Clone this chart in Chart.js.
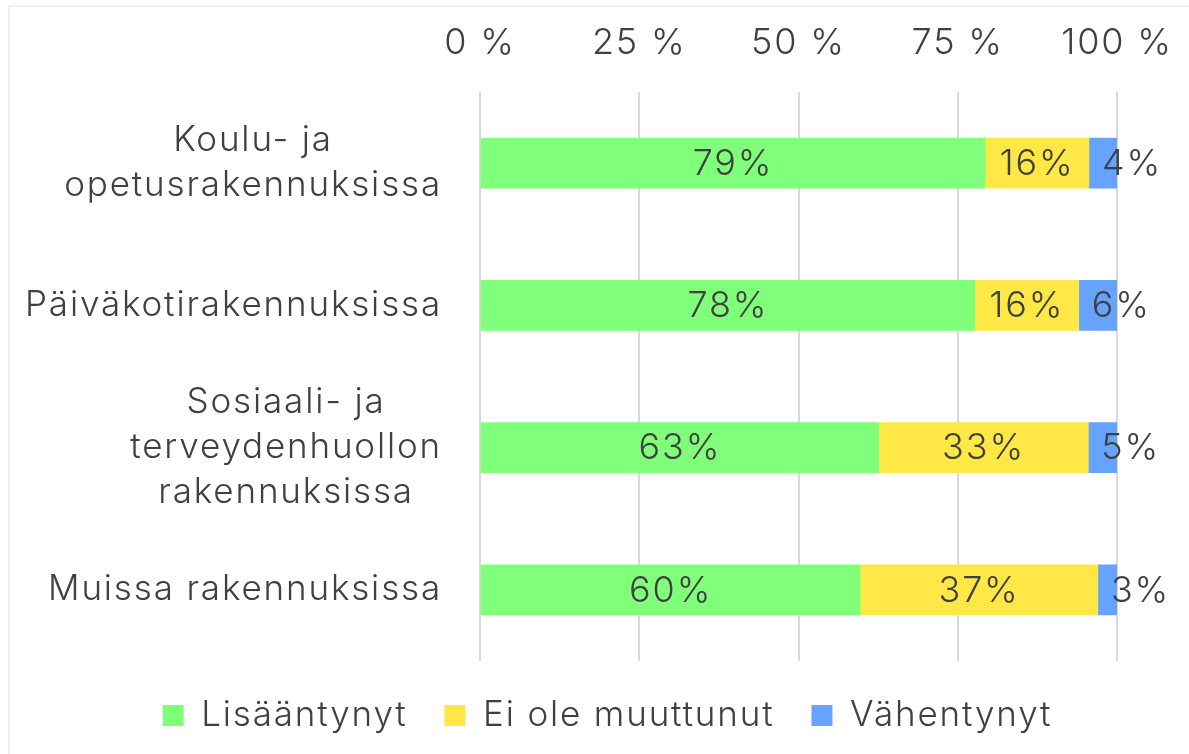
<!DOCTYPE html>
<html>
<head>
<meta charset="utf-8">
<script src="https://cdn.jsdelivr.net/npm/chart.js@4"></script>
<style>
  html, body { margin: 0; padding: 0; background: #fff; }
  #frame { position: absolute; left: 8px; top: 5px; width: 1181px; height: 749px;
           border-top: 2px solid #efefef; border-left: 2px solid #efefef; box-sizing: border-box; }
  #chart { position: absolute; left: 0; top: 0; }
</style>
</head>
<body>
<div id="frame"></div>
<canvas id="chart" width="1189" height="754"></canvas>
<script>
// categories (multi-line ones as arrays)
const categories = [
  ["Koulu- ja", "opetusrakennuksissa"],
  ["Päiväkotirakennuksissa"],
  ["Sosiaali- ja", "terveydenhuollon", "rakennuksissa"],
  ["Muissa rakennuksissa"]
];
const seriesNames = ["Lisääntynyt", "Ei ole muuttunut", "Vähentynyt"];
const lisaantynyt = [79.3, 77.7, 62.6, 59.7];
const eiMuuttunut = [16.3, 16.3, 32.9, 37.3];
const vahentynyt = [4.4, 6.0, 4.5, 3.0];
const tickValues = [0, 25, 50, 75, 100];

const colors = ["#80ff7a", "#ffe845", "#66a3ff"];
const textColor = "#404040";
const fontFamily = "Inter, 'Open Sans', sans-serif";

// widen the font a little so the texts take the reference's width
let spacing = "0px";
function applySpacing(chart) {
  const ctx = chart.ctx;
  if (spacing === "0px") {
    ctx.letterSpacing = "0px";
    ctx.font = "300 35px " + fontFamily;
    const w = ctx.measureText("Päiväkotirakennuksissa").width;
    spacing = Math.max(0, (417 - w) / 22).toFixed(2) + "px";
  }
  ctx.letterSpacing = spacing;
}
const letterSpacing = {
  id: "letterSpacing",
  beforeLayout: applySpacing,
  beforeDraw: applySpacing
};

// value labels inside the bars
const barLabels = {
  id: "barLabels",
  afterDatasetsDraw(chart) {
    const ctx = chart.ctx;
    const last = chart.data.datasets.length - 1;
    ctx.save();
    ctx.font = "300 36px " + fontFamily;
    ctx.fillStyle = textColor;
    ctx.textBaseline = "middle";
    chart.data.datasets.forEach((ds, di) => {
      chart.getDatasetMeta(di).data.forEach((bar, i) => {
        const txt = Math.round(ds.data[i]) + "%";
        if (di === last) {
          ctx.textAlign = "left";
          ctx.fillText(txt, bar.base + 13, bar.y + 1);
        } else {
          ctx.textAlign = "center";
          ctx.fillText(txt, (bar.x + bar.base) / 2, bar.y + 1);
        }
      });
    });
    ctx.restore();
  }
};

// category labels: each block right aligned, its lines centred
const categoryLabels = {
  id: "categoryLabels",
  afterDraw(chart) {
    const ctx = chart.ctx;
    const yScale = chart.scales.y;
    const right = chart.chartArea.left - 38;
    const lineH = 45;
    ctx.save();
    ctx.font = "300 35px " + fontFamily;
    ctx.fillStyle = textColor;
    ctx.textBaseline = "middle";
    ctx.textAlign = "center";
    categories.forEach((lines, i) => {
      const y = yScale.getPixelForValue(i);
      const w = Math.max(...lines.map(l => ctx.measureText(l).width));
      const cx = right - w / 2;
      lines.forEach((l, j) => {
        ctx.fillText(l, cx, y + (j - (lines.length - 1) / 2) * lineH);
      });
    });
    ctx.restore();
  }
};

new Chart(document.getElementById("chart"), {
  type: "bar",
  data: {
    labels: categories.map(c => c.join(" ")),
    datasets: [
      { label: seriesNames[0], data: lisaantynyt, backgroundColor: colors[0] },
      { label: seriesNames[1], data: eiMuuttunut, backgroundColor: colors[1] },
      { label: seriesNames[2], data: vahentynyt, backgroundColor: colors[2] }
    ]
  },
  options: {
    indexAxis: "y",
    responsive: false,
    animation: false,
    devicePixelRatio: 1,
    datasets: { bar: { barThickness: 50, borderWidth: 0 } },
    layout: { padding: { left: 98, right: 72, top: 0, bottom: 11 } },
    scales: {
      x: {
        stacked: true,
        position: "top",
        min: 0,
        max: 100,
        afterBuildTicks: s => { s.ticks = tickValues.map(v => ({ value: v })); },
        afterFit: s => { s.height = 92; s.paddingLeft = 0; s.paddingRight = 0; },
        ticks: {
          callback: v => v + " %",
          color: textColor,
          font: { family: fontFamily, size: 36, weight: 300 },
          padding: 27,
          maxRotation: 0
        },
        grid: { color: "#d9d9d9", lineWidth: 2, drawTicks: false },
        border: { display: false }
      },
      y: {
        stacked: true,
        ticks: { display: false },
        grid: { display: false },
        border: { display: false },
        afterFit: s => { s.width = 382; }
      }
    },
    plugins: {
      legend: {
        position: "bottom",
        labels: {
          boxWidth: 21,
          boxHeight: 21,
          padding: 37,
          color: textColor,
          font: { family: fontFamily, size: 35, weight: 300 }
        }
      },
      tooltip: { enabled: false }
    }
  },
  plugins: [letterSpacing, barLabels, categoryLabels]
});
</script>
</body>
</html>
